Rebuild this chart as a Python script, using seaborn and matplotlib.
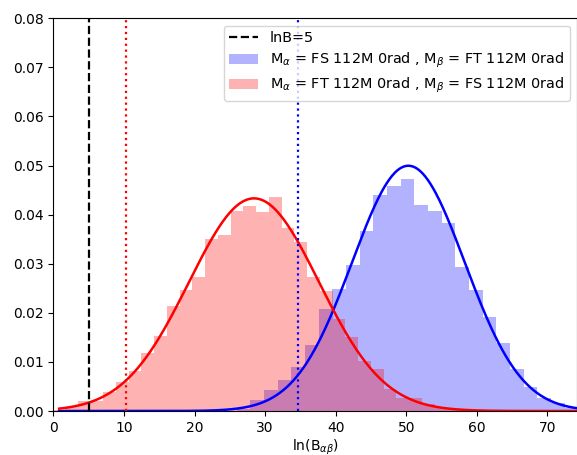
import numpy as np
import pandas as pd
import matplotlib
matplotlib.use('Agg')
import matplotlib.pyplot as plt
import seaborn as sns
from matplotlib.patches import Patch
from matplotlib.lines import Line2D

# density per bin
blue_start = 25.97
blue_width = 1.9375
blue_heights = [0.0005, 0.0022, 0.0043, 0.0063, 0.0089, 0.0134, 0.0208, 0.0248,
                0.0297, 0.0367, 0.0440, 0.0458, 0.0472, 0.0420, 0.0407, 0.0382,
                0.0293, 0.0246, 0.0191, 0.0138, 0.0086, 0.0049, 0.0027, 0.0016,
                0.0006]

red_start = -0.17
red_width = 1.806
red_heights = [0.0003, 0.0008, 0.0020, 0.0021, 0.0038, 0.0059, 0.0082, 0.0118,
               0.0153, 0.0214, 0.0246, 0.0272, 0.0350, 0.0358, 0.0408, 0.0417,
               0.0406, 0.0436, 0.0373, 0.0344, 0.0273, 0.0244, 0.0187, 0.0151,
               0.0102, 0.0086, 0.0045, 0.0026, 0.0026, 0.0014, 0.0006, 0.0005]

# gaussian fits
blue_mu, blue_sigma = 50.30, 7.985
red_mu, red_sigma = 28.42, 9.21

lnB_threshold = 5
red_cut = 10.32
blue_cut = 34.70

blue_label = r'M$_\alpha$ = FS 112M 0rad , M$_\beta$ = FT 112M 0rad'
red_label = r'M$_\alpha$ = FT 112M 0rad , M$_\beta$ = FS 112M 0rad'


def hist_frame(start, width, heights):
    edges = start + width * np.arange(len(heights) + 1)
    df = pd.DataFrame({'center': (edges[:-1] + edges[1:]) / 2, 'height': heights})
    return df, [float(e) for e in edges]


def gauss(x, mu, sigma):
    return np.exp(-0.5 * ((x - mu) / sigma) ** 2) / (sigma * np.sqrt(2 * np.pi))


fig, ax = plt.subplots(figsize=(5.77, 4.55), dpi=100)
fig.subplots_adjust(left=0.0927, right=1.0, top=0.9598, bottom=0.0967)

blue_df, b_edges = hist_frame(blue_start, blue_width, blue_heights)
red_df, r_edges = hist_frame(red_start, red_width, red_heights)

sns.histplot(data=blue_df, x='center', weights='height', bins=b_edges,
             color='blue', alpha=0.3, linewidth=0, ax=ax)
sns.histplot(data=red_df, x='center', weights='height', bins=r_edges,
             color='red', alpha=0.3, linewidth=0, ax=ax)

xs = np.linspace(0.8, 75, 600)
sns.lineplot(x=xs, y=gauss(xs, blue_mu, blue_sigma), color='blue', linewidth=1.8, ax=ax)
sns.lineplot(x=xs, y=gauss(xs, red_mu, red_sigma), color='red', linewidth=1.8, ax=ax)

ax.axvline(lnB_threshold, color='black', ls='--', lw=1.6)
ax.axvline(red_cut, color='red', ls=':', lw=1.6)
ax.axvline(blue_cut, color='blue', ls=':', lw=1.6)

ax.set_xlim(0, 74.2)
ax.set_ylim(0, 0.08)
ax.set_ylabel('')
ax.set_xlabel(r'ln(B$_{\alpha\beta}$)', labelpad=2)

handles = [Line2D([], [], color='black', ls='--', lw=1.6),
           Patch(facecolor='blue', alpha=0.3),
           Patch(facecolor='red', alpha=0.3)]
ax.legend(handles, ['lnB=5', blue_label, red_label], loc='upper right',
          fontsize=10.4, labelspacing=0.4)

fig.savefig('out.png', dpi=100)
